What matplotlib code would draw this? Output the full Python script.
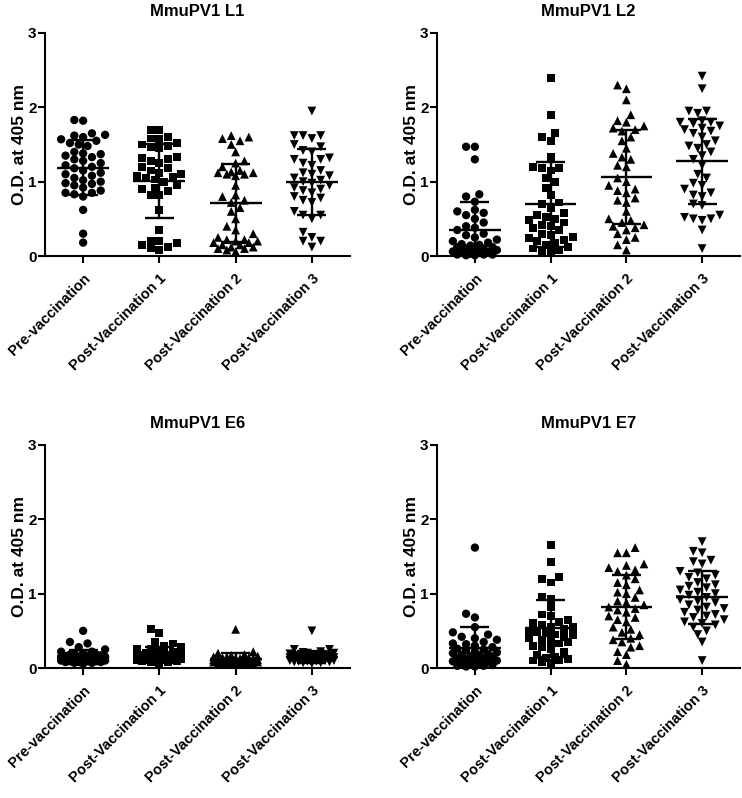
import numpy as np
import matplotlib
matplotlib.use("Agg")
import matplotlib.pyplot as plt

plt.rcParams["font.family"] = ["Liberation Sans", "DejaVu Sans"]
plt.rcParams["font.weight"] = "bold"

# ── data ──────────────────────────────────────────────────────────────────────
groups = ["Pre-vaccination", "Post-Vaccination 1", "Post-Vaccination 2", "Post-Vaccination 3"]
markers = ["o", "s", "^", "v"]
titles = ["MmuPV1 L1", "MmuPV1 L2", "MmuPV1 E6", "MmuPV1 E7"]

l1_pre = [1.83, 1.82, 1.65, 1.63, 1.62, 1.60, 1.57, 1.55, 1.52, 1.50, 1.48, 1.40, 1.38, 1.37,
          1.35, 1.33, 1.30, 1.28, 1.25, 1.22, 1.20, 1.18, 1.15, 1.12, 1.10, 1.08, 1.05, 1.02,
          1.00, 0.98, 0.97, 0.95, 0.92, 0.88, 0.85, 0.85, 0.83, 0.80, 0.62, 0.30, 0.18]
l1_p1 = [1.70, 1.70, 1.60, 1.58, 1.57, 1.52, 1.50, 1.48, 1.47, 1.45, 1.33, 1.32, 1.30, 1.28,
         1.25, 1.20, 1.18, 1.15, 1.12, 1.10, 1.08, 1.07, 1.05, 1.03, 1.00, 0.95, 0.92, 0.90,
         0.88, 0.82, 0.82, 0.62, 0.35, 0.20, 0.18, 0.15, 0.12, 0.10, 0.08, 0.20]
l1_p2 = [1.62, 1.60, 1.58, 1.55, 1.50, 1.40, 1.28, 1.25, 1.20, 1.15, 1.13, 1.12, 1.12, 1.10,
         1.10, 1.08, 0.95, 0.82, 0.80, 0.75, 0.72, 0.65, 0.60, 0.50, 0.40, 0.35, 0.30, 0.25,
         0.22, 0.22, 0.20, 0.20, 0.18, 0.18, 0.15, 0.12, 0.10, 0.08, 0.06, 0.10, 0.12, 0.15]
l1_p3 = [1.95, 1.62, 1.62, 1.62, 1.58, 1.50, 1.47, 1.42, 1.40, 1.32, 1.30, 1.30, 1.25, 1.22,
         1.15, 1.12, 1.10, 1.08, 1.05, 1.02, 1.00, 0.98, 0.95, 0.92, 0.90, 0.88, 0.85, 0.80,
         0.78, 0.75, 0.72, 0.60, 0.55, 0.55, 0.50, 0.32, 0.25, 0.20, 0.20, 0.12]

l2_pre = [1.47, 1.47, 1.30, 0.83, 0.80, 0.73, 0.62, 0.60, 0.58, 0.55, 0.50, 0.45, 0.40, 0.38,
          0.35, 0.30, 0.28, 0.25, 0.22, 0.20, 0.18, 0.16, 0.15, 0.14, 0.12, 0.12, 0.10, 0.10,
          0.08, 0.08, 0.06, 0.05, 0.05, 0.04, 0.03, 0.02, 0.02, 0.02, 0.01, 0.01]
l2_p1 = [2.40, 1.90, 1.65, 1.60, 1.55, 1.33, 1.20, 1.18, 1.18, 1.15, 1.05, 1.00, 0.92, 0.82,
         0.72, 0.70, 0.65, 0.58, 0.55, 0.52, 0.50, 0.48, 0.45, 0.42, 0.40, 0.38, 0.35, 0.30,
         0.28, 0.25, 0.24, 0.22, 0.20, 0.18, 0.15, 0.12, 0.10, 0.08, 0.06, 0.05]
l2_p2 = [2.30, 2.25, 2.10, 1.90, 1.82, 1.80, 1.75, 1.72, 1.70, 1.68, 1.60, 1.55, 1.45, 1.38,
         1.33, 1.30, 1.22, 1.20, 1.05, 1.00, 0.95, 0.90, 0.88, 0.85, 0.78, 0.75, 0.72, 0.60,
         0.50, 0.48, 0.45, 0.42, 0.40, 0.38, 0.35, 0.30, 0.25, 0.22, 0.15, 0.08]
l2_p3 = [2.42, 2.25, 1.95, 1.95, 1.92, 1.82, 1.80, 1.80, 1.78, 1.75, 1.72, 1.70, 1.68, 1.65,
         1.60, 1.55, 1.50, 1.48, 1.45, 1.40, 1.35, 1.30, 1.22, 1.10, 1.05, 0.98, 0.95, 0.90,
         0.85, 0.82, 0.80, 0.70, 0.68, 0.55, 0.52, 0.50, 0.50, 0.48, 0.35, 0.10]

e6_pre = [0.50, 0.35, 0.33, 0.28, 0.25, 0.22, 0.22, 0.20, 0.20, 0.18, 0.18, 0.17, 0.16, 0.16,
          0.15, 0.15, 0.15, 0.14, 0.14, 0.14, 0.13, 0.13, 0.12, 0.12, 0.12, 0.11, 0.11, 0.10,
          0.10, 0.10, 0.10, 0.09, 0.09, 0.09, 0.08, 0.08, 0.08, 0.07, 0.07, 0.06]
e6_p1 = [0.52, 0.47, 0.35, 0.33, 0.30, 0.28, 0.25, 0.25, 0.22, 0.22, 0.20, 0.20, 0.20, 0.18,
         0.18, 0.18, 0.17, 0.17, 0.16, 0.16, 0.15, 0.15, 0.15, 0.14, 0.14, 0.13, 0.13, 0.12,
         0.12, 0.12, 0.11, 0.11, 0.10, 0.10, 0.10, 0.09, 0.09, 0.08, 0.08, 0.07]
e6_p2 = [0.52, 0.22, 0.20, 0.18, 0.17, 0.16, 0.15, 0.15, 0.14, 0.14, 0.13, 0.13, 0.13, 0.12,
         0.12, 0.12, 0.11, 0.11, 0.11, 0.10, 0.10, 0.10, 0.10, 0.09, 0.09, 0.09, 0.09, 0.08,
         0.08, 0.08, 0.08, 0.07, 0.07, 0.07, 0.06, 0.06, 0.06, 0.05, 0.05, 0.05]
e6_p3 = [0.50, 0.25, 0.25, 0.22, 0.21, 0.20, 0.20, 0.19, 0.18, 0.18, 0.17, 0.17, 0.16, 0.16,
         0.15, 0.15, 0.15, 0.14, 0.14, 0.14, 0.13, 0.13, 0.13, 0.12, 0.12, 0.12, 0.11, 0.11,
         0.11, 0.10, 0.10, 0.10, 0.09, 0.09, 0.09, 0.08, 0.08, 0.07, 0.07, 0.06]

e7_pre = [1.62, 0.73, 0.68, 0.55, 0.48, 0.45, 0.42, 0.40, 0.38, 0.35, 0.33, 0.32, 0.30, 0.28,
          0.26, 0.25, 0.24, 0.22, 0.21, 0.20, 0.19, 0.18, 0.17, 0.16, 0.15, 0.14, 0.13, 0.12,
          0.11, 0.10, 0.09, 0.08, 0.07, 0.06, 0.05, 0.04, 0.03, 0.03, 0.02, 0.02]
e7_p1 = [1.65, 1.43, 1.22, 1.20, 1.15, 0.95, 0.93, 0.82, 0.72, 0.70, 0.65, 0.62, 0.60, 0.58,
         0.55, 0.55, 0.52, 0.50, 0.48, 0.47, 0.45, 0.44, 0.42, 0.40, 0.38, 0.36, 0.35, 0.33,
         0.30, 0.28, 0.25, 0.22, 0.18, 0.15, 0.13, 0.12, 0.10, 0.10, 0.08, 0.07]
e7_p2 = [1.62, 1.55, 1.55, 1.40, 1.38, 1.35, 1.32, 1.30, 1.25, 1.20, 1.15, 1.12, 1.05, 1.02,
         1.00, 0.95, 0.90, 0.88, 0.85, 0.82, 0.80, 0.78, 0.75, 0.70, 0.68, 0.65, 0.62, 0.55,
         0.52, 0.48, 0.45, 0.40, 0.38, 0.35, 0.30, 0.28, 0.22, 0.18, 0.10, 0.05]
e7_p3 = [1.70, 1.57, 1.55, 1.45, 1.43, 1.40, 1.30, 1.28, 1.25, 1.22, 1.20, 1.15, 1.12, 1.10,
         1.08, 1.05, 1.02, 1.00, 0.98, 0.95, 0.92, 0.90, 0.88, 0.85, 0.82, 0.80, 0.78, 0.75,
         0.72, 0.70, 0.68, 0.65, 0.62, 0.60, 0.58, 0.55, 0.50, 0.45, 0.35, 0.10]

panels = [
    [l1_pre, l1_p1, l1_p2, l1_p3],
    [l2_pre, l2_p1, l2_p2, l2_p3],
    [e6_pre, e6_p1, e6_p2, e6_p3],
    [e7_pre, e7_p1, e7_p2, e7_p3],
]

# ── layout (pixels: left, top, right, bottom) ────────────────────────────────
W, H = 742, 798
axes_px = [(45, 33, 350, 256), (437, 33, 740, 256),
           (45, 445, 350, 668), (437, 445, 740, 668)]

fig = plt.figure(figsize=(W / 100, H / 100), dpi=100)

MARKER_PX = 8.0
MAX_HALF_PX = 26.0


def swarm_offsets(ax, x0, values, diam, max_half):
    """Greedy beeswarm in pixel space, width capped (points overlap when dense)."""
    vals = np.asarray(values, dtype=float)
    order = np.argsort(vals)
    pts = ax.transData.transform(np.column_stack([np.full(len(vals), x0), vals]))
    step = diam * 0.55
    kmax = int(max_half // step)
    cands = [0.0]
    for k in range(1, kmax + 1):
        cands += [-k * step, k * step]
    placed = []
    xs = np.zeros(len(vals))
    for i in order:
        py = pts[i, 1]
        best, best_d = None, -1.0
        for c in cands:
            px = pts[i, 0] + c
            d = min([np.hypot(px - qx, py - qy) for qx, qy in placed] or [1e9])
            if d >= diam * 0.95:
                best = px
                break
            if d > best_d + 0.5:
                best, best_d = px, d
        placed.append((best, py))
        xs[i] = best
    inv = ax.transData.inverted()
    return inv.transform(np.column_stack([xs, pts[:, 1]]))[:, 0]


for p, (title, data) in enumerate(zip(titles, panels)):
    l, t, r, b = axes_px[p]
    ax = fig.add_axes([l / W, 1 - b / H, (r - l) / W, (b - t) / H])
    ax.set_xlim(-0.5, 3.5)
    ax.set_ylim(0, 3)

    for g, vals in enumerate(data):
        xs = swarm_offsets(ax, g, vals, MARKER_PX, MAX_HALF_PX)
        ms = 36 if markers[g] == "o" else (32 if markers[g] == "s" else 40)
        ax.scatter(xs, vals, marker=markers[g], s=ms, color="black",
                   edgecolors="none", zorder=2, clip_on=False)
        # mean ± SD
        m = np.mean(vals)
        sd = np.std(vals, ddof=1)
        lo, hi = max(m - sd, 0), m + sd
        ax.hlines(m, g - 0.34, g + 0.34, color="black", lw=1.7, zorder=3)
        ax.vlines(g, lo, hi, color="black", lw=1.7, zorder=3)
        ax.hlines([lo, hi], g - 0.19, g + 0.19, color="black", lw=1.7, zorder=3)

    ax.set_title(title, fontsize=12, fontweight="bold", pad=12)
    ax.set_ylabel("O.D. at 405 nm", fontsize=12.5, fontweight="bold", labelpad=1)
    ax.set_yticks([0, 1, 2, 3])
    ax.set_yticklabels(["0", "1", "2", "3"], fontsize=11, fontweight="bold")
    ax.set_xticks(range(4))
    ax.set_xticklabels(groups, rotation=45, ha="right", rotation_mode="anchor",
                       fontsize=10.5, fontweight="bold")
    for side in ["top", "right"]:
        ax.spines[side].set_visible(False)
    for side in ["left", "bottom"]:
        ax.spines[side].set_linewidth(1.5)
    ax.tick_params(axis="y", direction="out", length=5, width=1.5, pad=1)
    ax.tick_params(axis="x", direction="out", length=5, width=1.5, pad=6)

fig.savefig("out.png", dpi=100)
